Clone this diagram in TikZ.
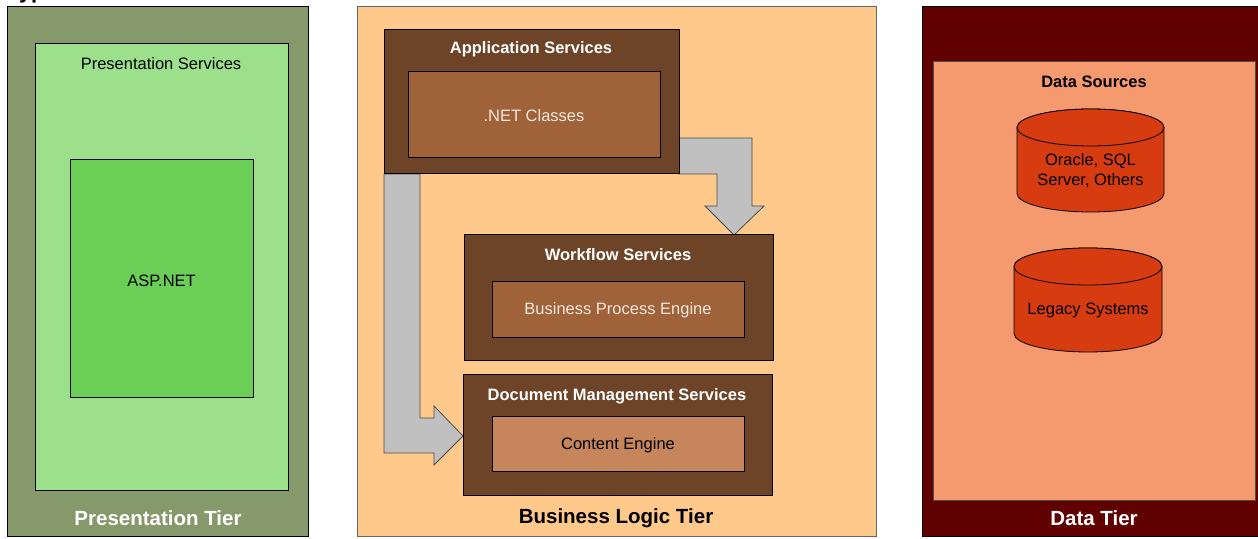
\documentclass[tikz,border=0pt]{standalone}
\usepackage{fontspec}
\setmainfont{Liberation Sans}
\definecolor{presOuter}{HTML}{86996A}
\definecolor{presInner}{HTML}{9CE08B}
\definecolor{aspGreen}{HTML}{6BCF57}
\definecolor{busOuter}{HTML}{FFC98B}
\definecolor{svcBrown}{HTML}{6E4429}
\definecolor{innerBrown}{HTML}{A06239}
\definecolor{contentBrown}{HTML}{C6855B}
\definecolor{arrowGray}{HTML}{C0C0C0}
\definecolor{arrowLine}{HTML}{4A4A4A}
\definecolor{dataOuter}{HTML}{600000}
\definecolor{dataSrc}{HTML}{F5996E}
\definecolor{cylRed}{HTML}{D73C10}
\definecolor{paleText}{HTML}{F2E8DE}
\begin{document}
\begin{tikzpicture}[x=1pt,y=1pt,
  box/.style={draw=black, line width=0.8pt, inner sep=0, anchor=south west},
  lbl/.style={font=\fontsize{16.5}{19.5}\selectfont, inner sep=0, align=center},
  ttl/.style={font=\fontsize{16.5}{19.5}\selectfont\bfseries, inner sep=0},
  tier/.style={font=\fontsize{20.5}{24}\selectfont\bfseries, inner sep=0},
  garrow/.style={fill=arrowGray, draw=arrowLine, line width=0.8pt, line join=miter},
  cyl/.style={fill=cylRed, draw=black, line width=0.8pt}]
\useasboundingbox (0,0) rectangle (1258,538);
\begin{scope}
\clip (0,0) rectangle (1258,538);
% cut-off heading
\node[anchor=base west, inner sep=0, font=\fontsize{22}{26}\selectfont\bfseries] (heading) at (7,539) {Typ};

% ---------- Presentation tier ----------
\node[box, fill=presOuter, minimum width=301, minimum height=530] (pres) at (7,1) {};
\node[box, fill=presInner, minimum width=253, minimum height=447] (presSvc) at (35,47) {};
\node[box, fill=aspGreen, minimum width=183, minimum height=238] (asp) at (70,140) {};
\node[lbl] (presSvcT) at (161,474.5) {Presentation Services};
\node[lbl] (aspT) at (161.5,257.5) {ASP.NET};
\node[tier, text=white] (presT) at (158,19.5) {Presentation Tier};

% ---------- Business logic tier ----------
\node[box, fill=busOuter, draw=black!60, minimum width=519, minimum height=530] (bus) at (357,1) {};

% block arrows (behind the service boxes)
\draw[garrow] (679,400) -- (752,400) -- (752,332) -- (764,332) -- (734,303)
  -- (705,332) -- (717,332) -- (717,364) -- (679,364) -- cycle;
\draw[garrow] (384,364) -- (384,85) -- (434,85) -- (434,73) -- (463,102)
  -- (434,132) -- (434,120) -- (420,120) -- (420,364) -- cycle;

\node[box, fill=svcBrown, minimum width=295, minimum height=144] (app) at (384,364) {};
\node[box, fill=innerBrown, minimum width=252, minimum height=86] (net) at (408,380) {};
\node[ttl, text=white] (appT) at (531,488.5) {Application Services};
\node[lbl, text=paleText] (netT) at (534,422.5) {.NET Classes};

\node[box, fill=svcBrown, minimum width=309, minimum height=126] (wf) at (464,177) {};
\node[box, fill=innerBrown, minimum width=252, minimum height=56] (bpe) at (492,200) {};
\node[ttl, text=white] (wfT) at (618,283.5) {Workflow Services};
\node[lbl, text=paleText] (bpeT) at (618,227.5) {Business Process Engine};

\node[box, fill=svcBrown, minimum width=309, minimum height=121] (doc) at (463,42) {};
\node[box, fill=contentBrown, minimum width=252, minimum height=55] (ce) at (492,66) {};
\node[ttl, text=white] (docT) at (617,141.5) {Document Management Services};
\node[lbl, text=black] (ceT) at (618,92.5) {Content Engine};

\node[tier, text=black] (busT) at (616,19.5) {Business Logic Tier};

% ---------- Data tier ----------
\node[box, fill=dataOuter, minimum width=340, minimum height=530] (data) at (922,1) {};
\node[box, fill=dataSrc, draw=black!70, minimum width=322, minimum height=439] (dsrc) at (933,37) {};
\node[ttl, text=black] (dsrcT) at (1094,456.5) {Data Sources};

% cylinder 1
\draw[cyl] (1017,410.5) -- (1017,344.5) arc[start angle=180, end angle=360, x radius=73.5, y radius=18.5]
  -- (1164,410.5) arc[start angle=0, end angle=180, x radius=73.5, y radius=18.5] -- cycle;
\draw[cyl] (1090.5,410.5) ellipse[x radius=73.5, y radius=18.5];
\node[lbl] (cyl1T) at (1090.5,367.5) {Oracle, SQL\\Server, Others};

% cylinder 2
\draw[cyl] (1014,271.5) -- (1014,204.5) arc[start angle=180, end angle=360, x radius=74, y radius=18.5]
  -- (1162,271.5) arc[start angle=0, end angle=180, x radius=74, y radius=18.5] -- cycle;
\draw[cyl] (1088,271.5) ellipse[x radius=74, y radius=18.5];
\node[lbl] (cyl2T) at (1088,227.5) {Legacy Systems};

\node[tier, text=white] (dataT) at (1094,19.5) {Data Tier};
\end{scope}
\end{tikzpicture}
\end{document}
